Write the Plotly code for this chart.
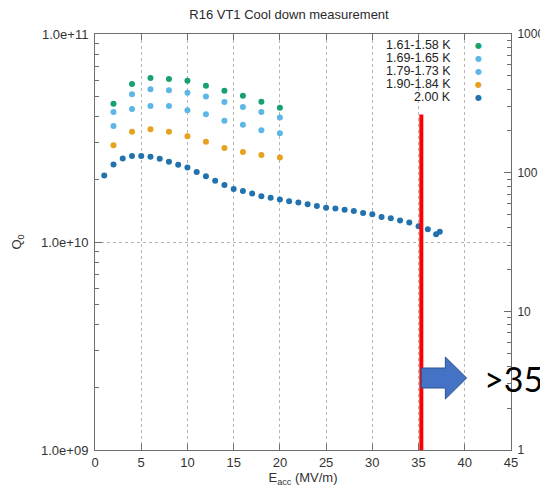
import plotly.graph_objects as go

# ---------------- data ----------------
title_text = "R16 VT1 Cool down measurement"
x_label = "E<sub>acc</sub> (MV/m)"
y_label = "Q<sub>0</sub>"

series_names = ["1.61-1.58 K", "1.69-1.65 K", "1.79-1.73 K", "1.90-1.84 K", "2.00 K"]
series_colors = ["#17a070", "#5cb6e6", "#5cb6e6", "#e6a11e", "#2272ad"]

e_low_t = [2, 4, 6, 8, 10, 12, 14, 16, 18, 20]
q_161 = [4.62e10, 5.75e10, 6.15e10, 6.08e10, 5.96e10, 5.64e10, 5.34e10, 5.05e10, 4.73e10, 4.42e10]
q_169 = [4.22e10, 5.13e10, 5.42e10, 5.36e10, 5.22e10, 5.00e10, 4.71e10, 4.46e10, 4.22e10, 3.97e10]
q_179 = [3.61e10, 4.36e10, 4.51e10, 4.51e10, 4.30e10, 4.11e10, 3.83e10, 3.66e10, 3.45e10, 3.33e10]
q_190 = [2.92e10, 3.39e10, 3.48e10, 3.39e10, 3.22e10, 3.03e10, 2.83e10, 2.71e10, 2.62e10, 2.55e10]

e_200 = [1, 2, 3, 4, 5, 6, 7, 8, 9, 10, 11, 12, 13, 14, 15, 16, 17, 18, 19, 20,
         21, 22, 23, 24, 25, 26, 27, 28, 29, 30, 31, 32, 33, 34, 35, 36, 36.9, 37.3]
q_200 = [2.09e10, 2.36e10, 2.52e10, 2.59e10, 2.59e10, 2.57e10, 2.51e10, 2.43e10, 2.35e10, 2.28e10,
         2.17e10, 2.07e10, 1.97e10, 1.88e10, 1.80e10, 1.76e10, 1.71e10, 1.66e10, 1.63e10, 1.60e10,
         1.57e10, 1.55e10, 1.52e10, 1.49e10, 1.46e10, 1.45e10, 1.43e10, 1.41e10, 1.38e10, 1.36e10,
         1.32e10, 1.30e10, 1.27e10, 1.24e10, 1.19e10, 1.15e10, 1.09e10, 1.12e10]

series_x = [e_low_t, e_low_t, e_low_t, e_low_t, e_200]
series_y = [q_161, q_169, q_179, q_190, q_200]

x_ticks = [0, 5, 10, 15, 20, 25, 30, 35, 40, 45]
y_ticks = [1e9, 1e10, 1e11]
y_tick_text = ["1.0e+09", "1.0e+10", "1.0e+11"]
y2_ticks = [1, 10, 100, 1000]
y2_tick_text = ["1", "10", "100", "1000"]

threshold_x = 35.3
threshold_q = [1e9, 4.1e10]
arrow_x = [35.3, 37.9, 40.2]   # tail, head start, tip
threshold_label = ">35"

# ---------------- layout constants ----------------
OFF = 8                       # default page (body) margin of the html page
W, H = 548 - OFF, 490 - OFF   # figure size so it fits in the window
ML, MR, MT, MB = 95 - OFF, 37, 34 - OFF, 40
PW = W - ML - MR
PH = H - MT - MB
FONT = "Liberation Sans, Arial, sans-serif"
AXC = "#6e6e6e"
TXT = "#333333"


def py_to_paper(py):          # py: window pixel
    return (H - MB - (py - OFF)) / PH


def px_to_paper(px):          # px: window pixel
    return (px - OFF - ML) / PW


fig = go.Figure()

for name, col, xs, ys in zip(series_names, series_colors, series_x, series_y):
    fig.add_trace(go.Scatter(x=xs, y=ys, mode="markers", name=name,
                             marker=dict(color=col, size=6, line=dict(width=0)),
                             showlegend=False))

# red threshold line
fig.add_trace(go.Scatter(x=[threshold_x, threshold_x], y=threshold_q, mode="lines",
                         line=dict(color="#ff0000", width=4), showlegend=False,
                         hoverinfo="skip"))

minor_left = [m * 10 ** e for e in (9, 10) for m in range(2, 10)]
minor_right = [m * 10 ** e for e in (0, 1, 2) for m in range(2, 10)]

fig.update_layout(
    width=W, height=H,
    margin=dict(l=ML, r=MR, t=MT, b=MB, pad=0, autoexpand=False),
    paper_bgcolor="white", plot_bgcolor="white",
    font=dict(family=FONT, size=13, color=TXT),
    showlegend=False,
    title=dict(text=title_text, x=(289 - OFF) / W, xref="container", xanchor="center",
               y=1 - (14 - OFF) / H, yref="container", yanchor="middle",
               font=dict(family=FONT, size=13, color="#2a2a2a")),
    xaxis=dict(range=[0, 45], tickmode="array", tickvals=x_ticks, automargin=False,
               ticks="inside", ticklen=6, tickcolor=AXC, tickwidth=1,
               showline=True, linecolor=AXC, linewidth=1, mirror="ticks",
               showgrid=True, gridcolor="#b4b4b4", griddash="dot", gridwidth=1,
               zeroline=False, tickfont=dict(size=13, color=TXT),
               title=dict(text=x_label, standoff=4, font=dict(size=13, color=TXT))),
    yaxis=dict(type="log", range=[9, 11], tickmode="array", tickvals=y_ticks,
               ticktext=y_tick_text, ticks="inside", ticklen=7, tickcolor=AXC,
               automargin=False,
               showline=True, linecolor=AXC, linewidth=1, mirror=True,
               showgrid=True, gridcolor="#b4b4b4", griddash="dot", gridwidth=1,
               zeroline=False, ticklabelstandoff=3, tickfont=dict(size=13, color=TXT),
               minor=dict(tickmode="array", tickvals=minor_left, ticks="inside",
                          ticklen=4, tickcolor=AXC, showgrid=False),
               title=dict(text=y_label, standoff=16, font=dict(size=13, color=TXT))),
    yaxis2=dict(type="log", range=[0, 3], overlaying="y", side="right",
                tickmode="array", tickvals=y2_ticks, ticktext=y2_tick_text,
                ticks="inside", ticklen=7, tickcolor=AXC, automargin=False,
                showline=True, linecolor=AXC, linewidth=1,
                showgrid=False, zeroline=False, ticklabelstandoff=3,
                tickfont=dict(size=12, color=TXT),
                minor=dict(tickmode="array", tickvals=minor_right, ticks="inside",
                           ticklen=4, tickcolor=AXC, showgrid=False)),
)

# invisible trace so the right axis is drawn
fig.add_trace(go.Scatter(x=[None], y=[None], yaxis="y2", showlegend=False))

# gnuplot-style key: right-aligned text with the symbol on its right
key_top_px, key_step_px = 45, 13
for i, (name, col) in enumerate(zip(series_names, series_colors)):
    yy = py_to_paper(key_top_px + key_step_px * i)
    fig.add_annotation(x=px_to_paper(452), y=yy, xref="paper", yref="paper",
                       text=name, showarrow=False, xanchor="right", yanchor="middle",
                       height=12, valign="middle", borderpad=0,
                       font=dict(family=FONT, size=12.5, color="#222222"))
    fig.add_annotation(x=px_to_paper(478), y=yy, xref="paper", yref="paper",
                       text="●", showarrow=False, xanchor="center", yanchor="middle",
                       height=8, borderpad=0,
                       font=dict(family="DejaVu Sans", size=8, color=col))

# block arrow
ay_mid = py_to_paper(378)
ay_body = 10 / PH
ay_head = 21 / PH
x0, x1, x2 = arrow_x
path = (f"M {x0},{ay_mid + ay_body} L {x1},{ay_mid + ay_body} L {x1},{ay_mid + ay_head} "
        f"L {x2},{ay_mid} L {x1},{ay_mid - ay_head} L {x1},{ay_mid - ay_body} "
        f"L {x0},{ay_mid - ay_body} Z")
fig.add_shape(type="path", path=path, xref="x", yref="paper",
              fillcolor="#4472c4", line=dict(color="#2f528f", width=1), layer="above")

fig.add_annotation(x=px_to_paper(483), y=ay_mid, xref="paper", yref="paper",
                   text=threshold_label, showarrow=False, xanchor="left", yanchor="middle",
                   borderpad=0,
                   font=dict(family="Lato, Carlito, sans-serif", size=34, color="#000000"))

fig.write_html("out.html")
